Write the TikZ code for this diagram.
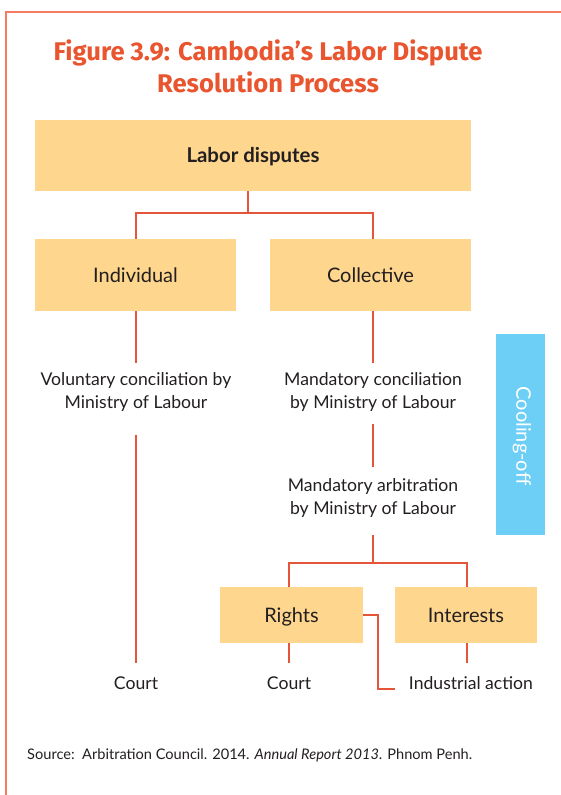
\documentclass[tikz,border=0pt]{standalone}
\usepackage{fontspec}
\setmainfont{Lato}
\newfontfamily\titlefont{Fira Sans}
\definecolor{titleorange}{HTML}{E9552F}
\definecolor{lineorange}{HTML}{E5553A}
\definecolor{frameorange}{HTML}{F47C62}
\definecolor{boxfill}{HTML}{FED68E}
\definecolor{coolblue}{HTML}{6DCFF6}
\definecolor{textgray}{HTML}{231F20}
\tikzset{
  box/.style={fill=boxfill, draw=none, inner sep=0pt, text=textgray, text height=14pt, text depth=0pt, font=\fontsize{20}{24}\selectfont},
  lbl/.style={inner sep=0pt, text=textgray, align=center, font=\fontsize{17.6}{23}\selectfont},
  conn/.style={draw=lineorange, line width=2pt},
}
\begin{document}
\begin{tikzpicture}[x=1pt,y=-1pt]
\useasboundingbox (0,0) rectangle (561,795);
% frame
\draw[frameorange, line width=1.5pt] (6,795) -- (6,12) -- (561,12);
% title
\node[text=titleorange, align=center, font=\titlefont\bfseries\fontsize{25.6}{32}\selectfont] (title) at (268,66) {Figure 3.9: Cambodia’s Labor Dispute\\Resolution Process};
% boxes
\node[box, minimum width=436pt, minimum height=71pt, font=\bfseries\fontsize{20.4}{24}\selectfont] (labor) at (253,155.5) {Labor disputes};
\node[box, minimum width=201pt, minimum height=72pt] (ind) at (135.5,275) {Individual};
\node[box, minimum width=201pt, minimum height=72pt] (col) at (370.5,275) {Collective};
\node[box, minimum width=143pt, minimum height=56pt] (rights) at (291.5,615) {Rights};
\node[box, minimum width=142pt, minimum height=56pt] (inter) at (466,615) {Interests};
% cooling-off
\node[fill=coolblue, minimum width=49pt, minimum height=201pt, inner sep=0pt] (cool) at (520.5,434.5) {};
\node[rotate=-90, text=white, font=\fontsize{20}{24}\selectfont, inner sep=0pt] (cooltxt) at (522,436) {Cooling-off};
% labels
\node[lbl] (vol) at (136,392.5) {Voluntary conciliation by\\Ministry of Labour};
\node[lbl] (mcon) at (373,392.5) {Mandatory conciliation\\by Ministry of Labour};
\node[lbl] (marb) at (373,498) {Mandatory arbitration\\by Ministry of Labour};
\node[lbl] (court1) at (136,683) {Court};
\node[lbl] (court2) at (289,683) {Court};
\node[lbl] (indact) at (471,683) {Industrial action};
% source
\node[anchor=west, inner sep=0pt, text=textgray, font=\fontsize{14.6}{17}\selectfont] (src) at (27,755) {Source:\ \ Arbitration Council. 2014. \textit{Annual Report 2013}. Phnom Penh.};
% connectors
\coordinate (split1) at (248,213);
\coordinate (split2) at (373,563);
\coordinate (lcol) at (136,0);
\draw[conn] (labor.south -| split1) -- (split1);
\draw[conn] (ind.north -| lcol) |- (split1) -| (col.north -| split2);
\draw[conn] (ind.south -| lcol) -- ++(0,52);
\draw[conn] (lcol |- 0,435) -- ++(0,228);
\draw[conn] (col.south -| split2) -- ++(0,52);
\draw[conn] (split2 |- 0,424) -- ++(0,43);
\draw[conn] (split2 |- 0,535) -- (split2);
\draw[conn] (rights.north -| 289,0) |- (split2) -| (inter.north -| 467,0);
\draw[conn] (rights.south -| 289,0) -- ++(0,20);
\draw[conn] (inter.south -| 467,0) -- ++(0,20);
\coordinate (elbowend) at (395,689);
\draw[conn] (rights.east) -- ++(15,0) |- (elbowend);
\end{tikzpicture}
\end{document}
